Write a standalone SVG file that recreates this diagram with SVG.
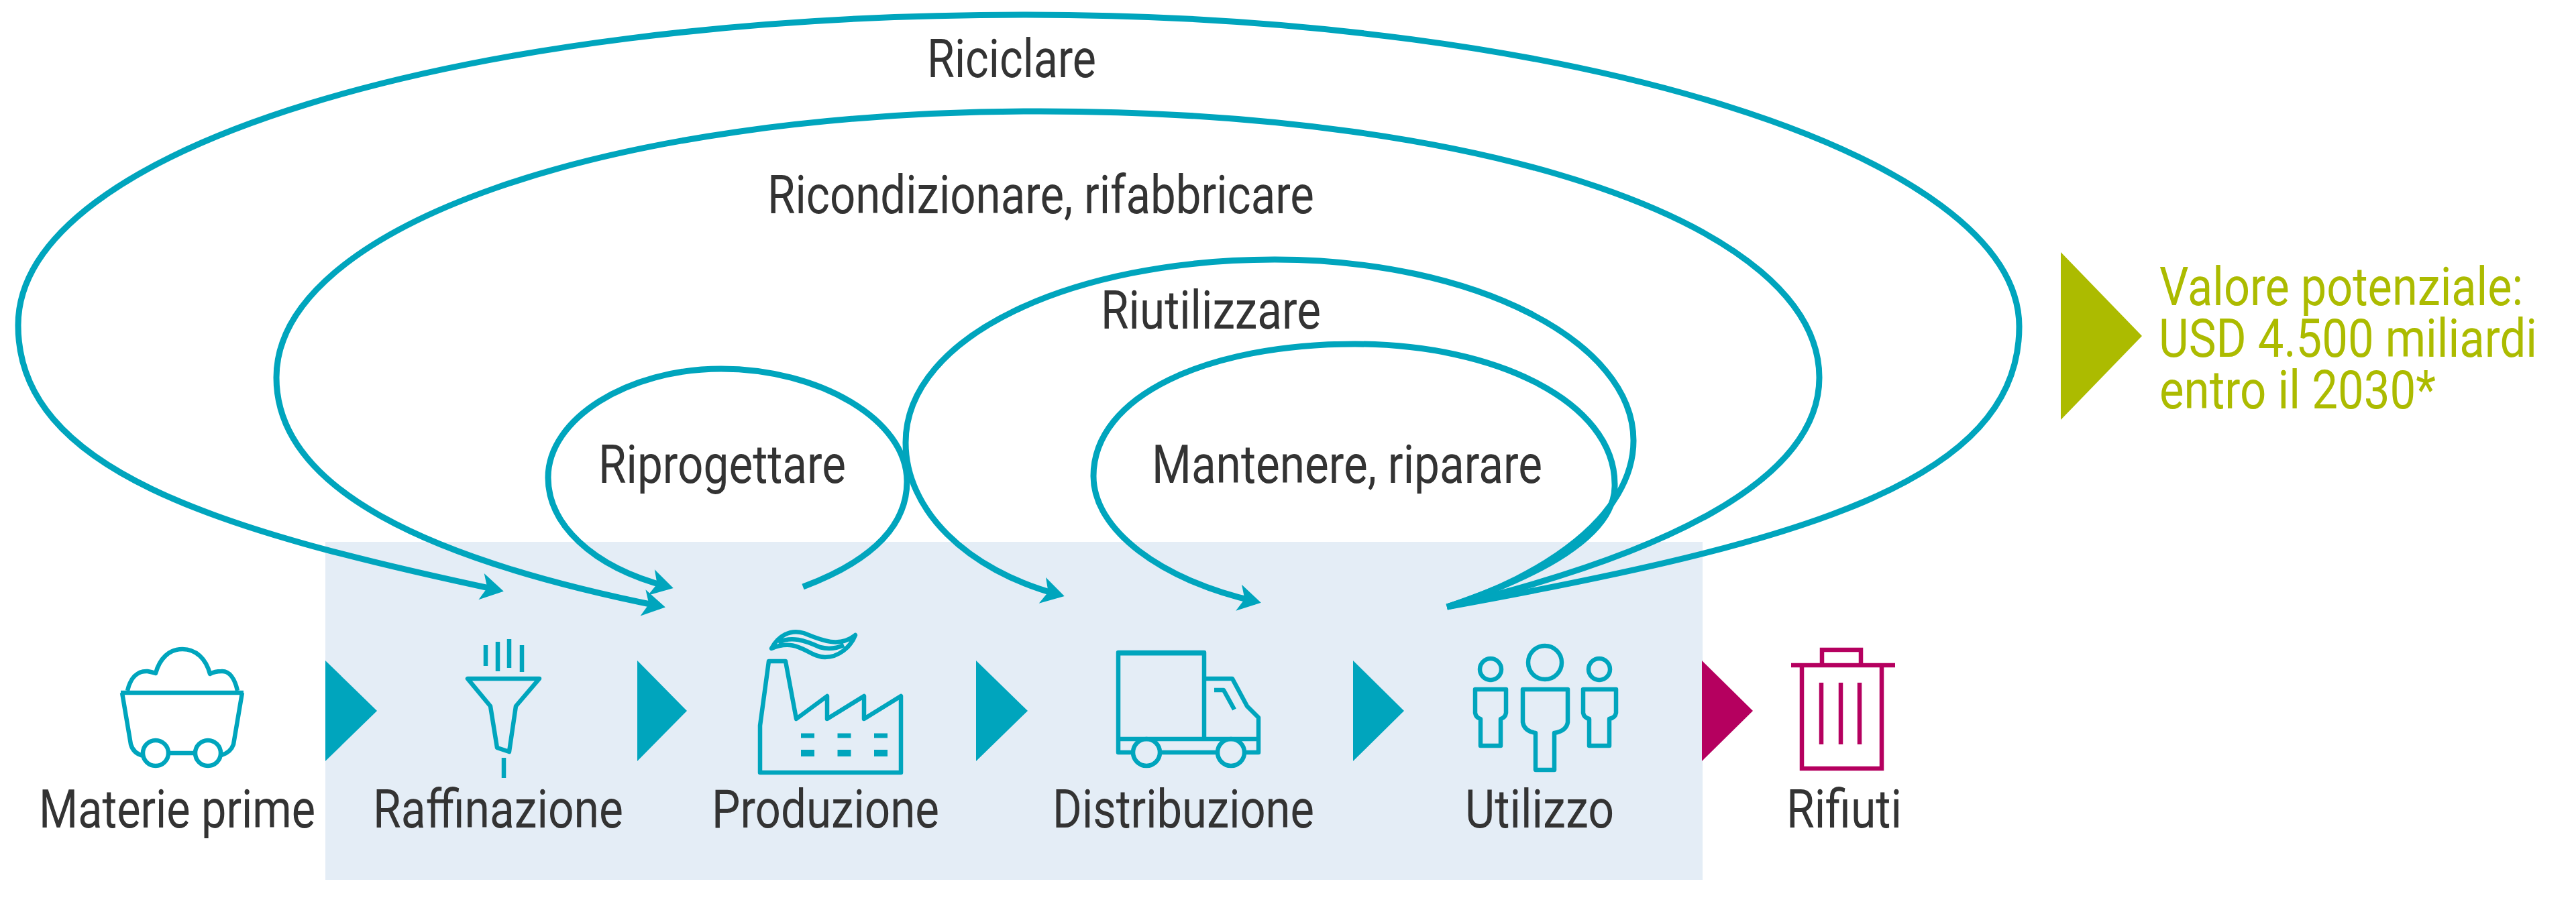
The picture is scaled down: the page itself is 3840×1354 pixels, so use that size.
<svg xmlns="http://www.w3.org/2000/svg" width="3840" height="1354" viewBox="0 0 3840 1354">
<style>
text{font-family:Roboto,"Liberation Sans",sans-serif;font-size:80px;fill:#333}
text.g{fill:#ACBB00}
.g{fill:#ACBB00}
.arc{fill:none;stroke:#00A5BD;stroke-width:9}
.ic{fill:none;stroke:#00A5BD;stroke-width:6.5;stroke-linejoin:round}
.m{fill:none;stroke:#B5005F;stroke-width:6.5}
.t{fill:#00A5BD}
</style>
<defs>
<marker id="ah" markerUnits="userSpaceOnUse" markerWidth="60" markerHeight="60" viewBox="-40 -30 60 60" refX="0" refY="0" orient="auto" overflow="visible">
<path d="M8 0L-26 -20L-17 0L-26 20Z" fill="#00A5BD"/>
</marker>
</defs>
<rect id="band" x="485" y="808" width="2053" height="504" fill="#E4EDF6"/>
<g id="connectors">
<path class="arc" marker-end="url(#ah)" d="M2157 905C2680 810 3010 720 3010 487C3010 231 2344 22 1530 22C680 22 27 222 27 485C27 700 320 790 743 880"/>
<path class="arc" marker-end="url(#ah)" d="M2157 905C2470 830 2712 720 2712 563C2712 335 2220 166 1550 166C900 166 412 340 412 563C412 730 640 835 984 904"/>
<path class="arc" marker-end="url(#ah)" d="M2157 905C2300 860 2435 770 2435 657C2435 510 2200 387 1900 387C1600 387 1350 500 1350 660C1350 760 1440 850 1579 887"/>
<path class="arc" marker-end="url(#ah)" d="M2157 905C2290 860 2410 800 2407 722C2407 600 2230 513 2020 513C1800 513 1630 590 1630 710C1630 790 1730 865 1872 897"/>
<path class="arc" marker-end="url(#ah)" d="M1197 875C1290 840 1352 790 1352 718C1352 625 1220 550 1075 550C935 550 817 625 817 712C817 780 880 845 996 875"/>
<polygon class="t" points="485,985 562,1060 485,1135"/>
<polygon class="t" points="950,985 1024,1060 950,1135"/>
<polygon class="t" points="1455,985 1532,1060 1455,1135"/>
<polygon class="t" points="2017,985 2093,1060 2017,1135"/>
<polygon points="2537,985 2613,1060 2537,1135" fill="#B5005F"/>
</g>
<g id="arc-labels">
<text x="1382" y="115" textLength="252" lengthAdjust="spacingAndGlyphs">Riciclare</text>
<text x="1144" y="318" textLength="815" lengthAdjust="spacingAndGlyphs">Ricondizionare, rifabbricare</text>
<text x="1641" y="490" textLength="328" lengthAdjust="spacingAndGlyphs">Riutilizzare</text>
<text x="892" y="720" textLength="369" lengthAdjust="spacingAndGlyphs">Riprogettare</text>
<text x="1717" y="720" textLength="582" lengthAdjust="spacingAndGlyphs">Mantenere, riparare</text>
</g>
<g id="materie-prime">
<path class="ic" d="M180 1033H363M182 1033L195 1110Q199 1124 214 1127M361 1033L348 1110Q344 1122 330 1126M251 1123H291"/>
<path class="ic" d="M190 1030C194 1012 204 1000 220 1001Q226 1002 232 1004C238 982 252 968 272 968C292 968 307 982 313 1005Q320 1001 330 1001C342 1000 350 1012 354 1030"/>
<circle class="ic" cx="232" cy="1123" r="19"/><circle class="ic" cx="310" cy="1123" r="19"/>
<text x="58" y="1234" textLength="412" lengthAdjust="spacingAndGlyphs">Materie prime</text>
</g>
<g id="raffinazione">
<path class="ic" d="M724 962V993M742 957V1001M759 953V996M778 962V1002M751 1130V1160"/>
<path class="ic" d="M697 1012H804L769 1053L759 1121L741 1115L731 1053Z"/>
<text x="556" y="1234" textLength="373" lengthAdjust="spacingAndGlyphs">Raffinazione</text>
</g>
<g id="produzione">
<path class="ic" d="M1133 1152V1082L1146 986H1171L1187 1072L1233 1038V1072L1288 1038V1072L1343 1038V1152Z"/>
<path stroke="#00A5BD" stroke-width="6" d="M1133 1152H1343"/>
<path class="ic" d="M1150 967C1160 948 1178 938 1198 944C1218 952 1250 968 1275 947C1268 965 1250 980 1230 980C1205 980 1190 950 1150 967ZM1160 958C1180 948 1200 955 1222 965Q1240 970 1258 962"/>
<path stroke="#00A5BD" stroke-width="7" stroke-dasharray="20 34.5" d="M1194 1097H1325"/>
<path stroke="#00A5BD" stroke-width="10" stroke-dasharray="20 34.5" d="M1194 1123H1325"/>
<text x="1061" y="1234" textLength="339" lengthAdjust="spacingAndGlyphs">Produzione</text>
</g>
<g id="distribuzione">
<path class="ic" d="M1795 1102V973H1667V1122H1687M1730 1122H1814M1856 1122H1876V1070L1859 1053L1837 1012H1795M1667 1102H1876M1810 1029H1824L1840 1058"/>
<path stroke="#00A5BD" stroke-width="5" d="M1667 975H1795"/>
<circle class="ic" cx="1709" cy="1122" r="20"/><circle class="ic" cx="1835" cy="1122" r="20"/>
<text x="1569" y="1234" textLength="390" lengthAdjust="spacingAndGlyphs">Distribuzione</text>
</g>
<g id="utilizzo">
<circle class="ic" cx="2303" cy="988" r="25"/><circle class="ic" cx="2222" cy="998" r="16"/><circle class="ic" cx="2384" cy="998" r="16"/>
<path class="ic" d="M2270 1028H2337V1077Q2335 1090 2317 1093V1148H2289V1093Q2272 1090 2270 1077Z"/>
<path class="ic" d="M2199 1028H2245V1063Q2244 1070 2237 1072V1112H2207V1072Q2200 1070 2199 1063Z"/>
<path class="ic" d="M2360 1028H2409V1063Q2408 1070 2399 1072V1112H2369V1072Q2361 1070 2360 1063Z"/>
<text x="2184" y="1234" textLength="222" lengthAdjust="spacingAndGlyphs">Utilizzo</text>
</g>
<g id="rifiuti">
<path class="m" d="M2670 992H2825M2716 992V969H2774V992M2686 992V1146H2805V992M2715 1018V1110M2744 1018V1110M2772 1018V1110"/>
<text x="2663" y="1234" textLength="172" lengthAdjust="spacingAndGlyphs">Rifiuti</text>
</g>
<g id="valore">
<polygon class="g" points="3072,376 3193,501 3072,626"/>
<text class="g" x="3219" y="455" textLength="542" lengthAdjust="spacingAndGlyphs">Valore potenziale:</text>
<text class="g" x="3218" y="532" textLength="564" lengthAdjust="spacingAndGlyphs">USD 4.500 miliardi</text>
<text class="g" x="3219" y="609" textLength="412" lengthAdjust="spacingAndGlyphs">entro il 2030*</text>
</g>
</svg>
